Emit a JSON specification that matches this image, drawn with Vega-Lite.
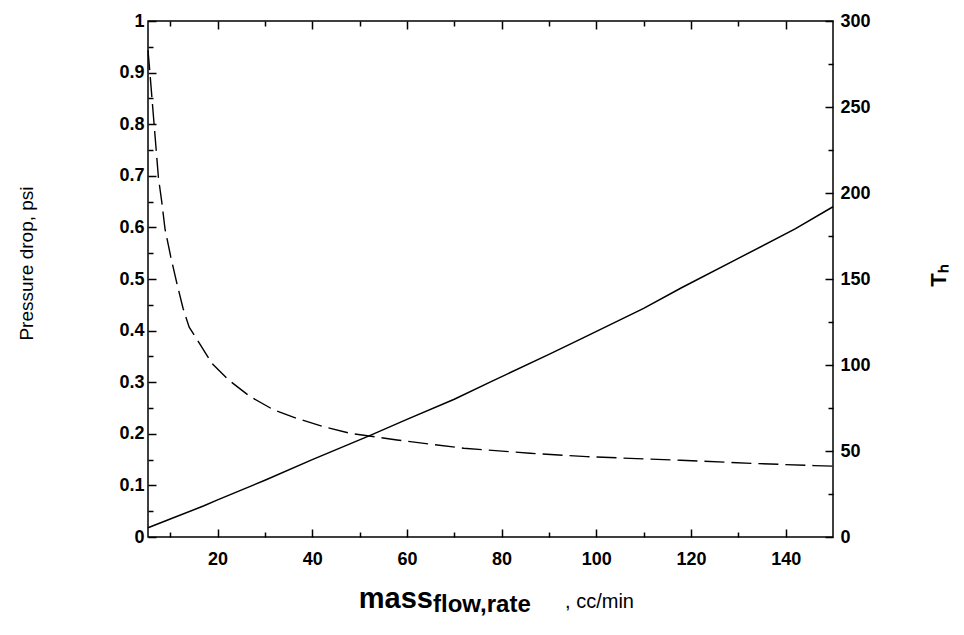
{
  "$schema": "https://vega.github.io/schema/vega-lite/v6.json",
  "width": 685,
  "height": 516,
  "autosize": {"type": "none"},
  "padding": {"left": 148, "top": 21, "right": 131, "bottom": 98},
  "background": "white",
  "config": {
    "view": {"stroke": "#000", "strokeWidth": 1.5},
    "axis": {
      "domain": false,
      "grid": false,
      "tickColor": "#000",
      "tickWidth": 1.5,
      "labelFont": "Liberation Sans",
      "labelFontWeight": "bold",
      "labelFontSize": 18,
      "labelColor": "#000",
      "titleFont": "Liberation Sans",
      "titleColor": "#000"
    }
  },
  "datasets": {
    "pressure": [
      {"flow": 5.3, "drop": 0.018},
      {"flow": 10, "drop": 0.035},
      {"flow": 17, "drop": 0.060},
      {"flow": 20, "drop": 0.072},
      {"flow": 30, "drop": 0.110},
      {"flow": 40, "drop": 0.150},
      {"flow": 52, "drop": 0.196},
      {"flow": 60, "drop": 0.228},
      {"flow": 70, "drop": 0.267},
      {"flow": 78, "drop": 0.302},
      {"flow": 90, "drop": 0.354},
      {"flow": 97, "drop": 0.385},
      {"flow": 110, "drop": 0.443},
      {"flow": 118, "drop": 0.483},
      {"flow": 130, "drop": 0.540},
      {"flow": 142, "drop": 0.597},
      {"flow": 150, "drop": 0.640}
    ],
    "th": [
      {"flow": 5.3, "th": 283},
      {"flow": 5.7, "th": 270},
      {"flow": 7.0, "th": 226},
      {"flow": 7.5, "th": 209},
      {"flow": 8.2, "th": 195},
      {"flow": 8.9, "th": 179},
      {"flow": 10.1, "th": 163},
      {"flow": 11.4, "th": 147.5},
      {"flow": 12.7, "th": 133},
      {"flow": 14.0, "th": 122},
      {"flow": 16.3, "th": 112},
      {"flow": 18.8, "th": 101},
      {"flow": 22.3, "th": 91.3},
      {"flow": 26.9, "th": 81.6},
      {"flow": 31.8, "th": 74},
      {"flow": 36.7, "th": 69},
      {"flow": 42.4, "th": 64.1},
      {"flow": 48, "th": 60.3},
      {"flow": 57.9, "th": 56.4},
      {"flow": 72, "th": 51.6},
      {"flow": 86, "th": 48.7},
      {"flow": 98, "th": 46.7},
      {"flow": 117.8, "th": 44.6},
      {"flow": 133, "th": 42.8},
      {"flow": 146, "th": 41.5},
      {"flow": 150, "th": 41.2}
    ]
  },
  "layer": [
    {
      "data": {"name": "pressure"},
      "mark": {"type": "line", "color": "#000", "strokeWidth": 1.5},
      "encoding": {
        "x": {
          "field": "flow", "type": "quantitative",
          "scale": {"domain": [5.3, 150], "nice": false, "zero": false},
          "axis": {"orient": "bottom", "values": [20, 40, 60, 80, 100, 120, 140], "tickSize": -8, "labelPadding": 21, "title": null}
        },
        "y": {
          "field": "drop", "type": "quantitative",
          "scale": {"domain": [0, 1], "nice": false},
          "axis": {
            "orient": "left",
            "values": [0, 0.1, 0.2, 0.3, 0.4, 0.5, 0.6, 0.7, 0.8, 0.9, 1],
            "format": "~g",
            "tickSize": -8,
            "labelPadding": 12,
            "title": "Pressure drop, psi",
            "titleFontSize": 19,
            "titleFontWeight": "normal",
            "titlePadding": 82,
            "titleY": 242
          }
        }
      }
    },
    {
      "data": {"name": "th"},
      "mark": {"type": "line", "color": "#000", "strokeWidth": 1.4, "strokeDash": [20, 7]},
      "encoding": {
        "x": {
          "field": "flow", "type": "quantitative",
          "scale": {"domain": [5.3, 150], "nice": false, "zero": false},
          "axis": {"orient": "bottom", "values": [10, 30, 50, 70, 90, 110, 130], "tickSize": -5, "labels": false, "title": null}
        },
        "y": {
          "field": "th", "type": "quantitative",
          "scale": {"domain": [0, 300], "nice": false},
          "axis": {
            "orient": "right",
            "values": [0, 50, 100, 150, 200, 250, 300],
            "tickSize": -8,
            "labelPadding": 15,
            "title": "Tₕ",
            "titleFontSize": 22,
            "titleFontWeight": "bold",
            "titleAngle": 270,
            "titleBaseline": "top",
            "titlePadding": 58,
            "titleY": 254
          }
        }
      }
    },
    {
      "data": {"name": "pressure"},
      "mark": {"type": "point", "opacity": 0},
      "encoding": {
        "x": {
          "field": "flow", "type": "quantitative",
          "scale": {"domain": [5.3, 150], "nice": false, "zero": false},
          "axis": {"orient": "top", "values": [20, 40, 60, 80, 100, 120, 140], "tickSize": -8, "labels": false, "title": null}
        },
        "y": {
          "field": "drop", "type": "quantitative",
          "scale": {"domain": [0, 1], "nice": false},
          "axis": {"orient": "left", "values": [0.05, 0.15, 0.25, 0.35, 0.45, 0.55, 0.65, 0.75, 0.85, 0.95], "tickSize": -5, "labels": false, "title": null}
        }
      }
    },
    {
      "data": {"name": "th"},
      "mark": {"type": "point", "opacity": 0},
      "encoding": {
        "x": {
          "field": "flow", "type": "quantitative",
          "scale": {"domain": [5.3, 150], "nice": false, "zero": false},
          "axis": {"orient": "top", "values": [10, 30, 50, 70, 90, 110, 130], "tickSize": -5, "labels": false, "title": null}
        },
        "y": {
          "field": "th", "type": "quantitative",
          "scale": {"domain": [0, 300], "nice": false},
          "axis": {"orient": "right", "values": [25, 75, 125, 175, 225, 275], "tickSize": -5, "labels": false, "title": null}
        }
      }
    },
    {
      "data": {"values": [{}]},
      "mark": {"type": "text", "text": "mass", "font": "Liberation Sans", "fontWeight": "bold", "fontSize": 29, "align": "right", "baseline": "alphabetic", "color": "#000"},
      "encoding": {
        "x": {"datum": 65.5, "type": "quantitative", "scale": {"domain": [5.3, 150], "nice": false, "zero": false}, "axis": null},
        "y": {"datum": -0.1376, "type": "quantitative", "scale": {"domain": [0, 1], "nice": false}, "axis": null}
      }
    },
    {
      "data": {"values": [{}]},
      "mark": {"type": "text", "text": "flow,rate", "font": "Liberation Sans", "fontWeight": "bold", "fontSize": 24, "align": "left", "baseline": "alphabetic", "color": "#000"},
      "encoding": {
        "x": {"datum": 65.5, "type": "quantitative", "scale": {"domain": [5.3, 150], "nice": false, "zero": false}, "axis": null},
        "y": {"datum": -0.1453, "type": "quantitative", "scale": {"domain": [0, 1], "nice": false}, "axis": null}
      }
    },
    {
      "data": {"values": [{}]},
      "mark": {"type": "text", "text": ", cc/min", "font": "Liberation Sans", "fontWeight": "normal", "fontSize": 20, "align": "left", "baseline": "alphabetic", "color": "#000"},
      "encoding": {
        "x": {"datum": 93.4, "type": "quantitative", "scale": {"domain": [5.3, 150], "nice": false, "zero": false}, "axis": null},
        "y": {"datum": -0.1376, "type": "quantitative", "scale": {"domain": [0, 1], "nice": false}, "axis": null}
      }
    }
  ],
  "resolve": {
    "scale": {"y": "independent"},
    "axis": {"x": "independent", "y": "independent"}
  }
}
